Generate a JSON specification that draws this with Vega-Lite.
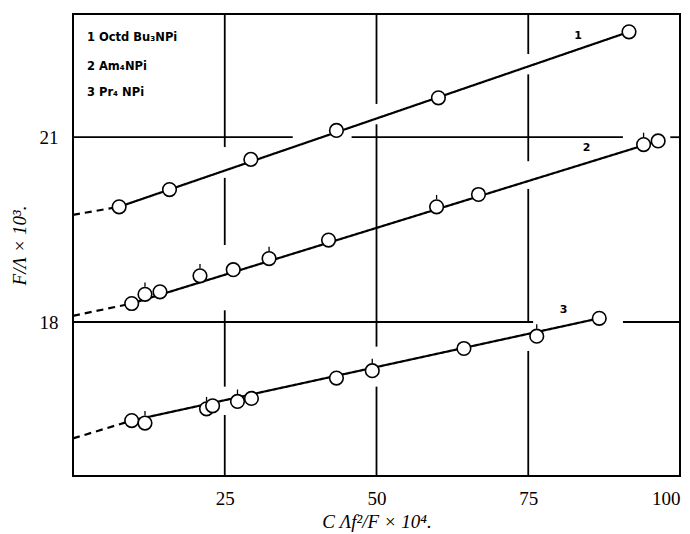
{
  "$schema": "https://vega.github.io/schema/vega-lite/v6.json",
  "autosize": "none",
  "width": 607,
  "height": 462,
  "padding": {"left": 73, "top": 14, "right": 10, "bottom": 58},
  "background": "white",
  "config": {
    "view": {"stroke": "black", "strokeWidth": 2},
    "axis": {
      "domain": false, "ticks": false, "grid": false,
      "labelFont": "Liberation Serif", "labelFontSize": 19, "labelColor": "black",
      "titleFont": "Liberation Serif", "titleFontSize": 19, "titleFontWeight": "normal", "titleColor": "black", "titleFontStyle": "italic"
    }
  },
  "datasets": {
    "pts": [
      {"s": "1", "x": 7.6, "y": 19.87, "t": false},
      {"s": "1", "x": 15.9, "y": 20.15, "t": false},
      {"s": "1", "x": 29.3, "y": 20.64, "t": false},
      {"s": "1", "x": 43.4, "y": 21.11, "t": false},
      {"s": "1", "x": 60.2, "y": 21.64, "t": false},
      {"s": "1", "x": 91.6, "y": 22.71, "t": false},
      {"s": "2", "x": 9.67, "y": 18.30, "t": false},
      {"s": "2", "x": 11.86, "y": 18.45, "t": true},
      {"s": "2", "x": 14.33, "y": 18.49, "t": false},
      {"s": "2", "x": 20.92, "y": 18.75, "t": true},
      {"s": "2", "x": 26.4, "y": 18.85, "t": false},
      {"s": "2", "x": 32.3, "y": 19.03, "t": true},
      {"s": "2", "x": 42.1, "y": 19.33, "t": false},
      {"s": "2", "x": 59.9, "y": 19.87, "t": true},
      {"s": "2", "x": 66.8, "y": 20.07, "t": false},
      {"s": "2", "x": 94.0, "y": 20.88, "t": true},
      {"s": "2", "x": 96.4, "y": 20.94, "t": false},
      {"s": "3", "x": 9.67, "y": 16.40, "t": false},
      {"s": "3", "x": 11.86, "y": 16.36, "t": true},
      {"s": "3", "x": 22.0, "y": 16.59, "t": true},
      {"s": "3", "x": 23.0, "y": 16.64, "t": false},
      {"s": "3", "x": 27.1, "y": 16.71, "t": true},
      {"s": "3", "x": 29.4, "y": 16.76, "t": false},
      {"s": "3", "x": 43.4, "y": 17.09, "t": false},
      {"s": "3", "x": 49.3, "y": 17.21, "t": true},
      {"s": "3", "x": 64.4, "y": 17.57, "t": false},
      {"s": "3", "x": 76.4, "y": 17.77, "t": true},
      {"s": "3", "x": 86.7, "y": 18.06, "t": false}
    ],
    "fits": [
      {"seg": "1d", "style": "dash", "x": 0, "y": 19.74},
      {"seg": "1d", "style": "dash", "x": 7.6, "y": 19.87},
      {"seg": "1s", "style": "solid", "x": 7.6, "y": 19.87},
      {"seg": "1s", "style": "solid", "x": 91.6, "y": 22.71},
      {"seg": "2d", "style": "dash", "x": 0, "y": 18.10},
      {"seg": "2d", "style": "dash", "x": 9.67, "y": 18.30},
      {"seg": "2s", "style": "solid", "x": 9.67, "y": 18.30},
      {"seg": "2s", "style": "solid", "x": 96.4, "y": 20.94},
      {"seg": "3d", "style": "dash", "x": 0, "y": 16.11},
      {"seg": "3d", "style": "dash", "x": 9.67, "y": 16.40},
      {"seg": "3s", "style": "solid", "x": 9.67, "y": 16.40},
      {"seg": "3s", "style": "solid", "x": 86.7, "y": 18.06}
    ],
    "grid": [
      {"x": 25, "x2": 25, "y": 23, "y2": 20.84},
      {"x": 25, "x2": 25, "y": 20.34, "y2": 19.25},
      {"x": 25, "x2": 25, "y": 18.19, "y2": 16.95},
      {"x": 25, "x2": 25, "y": 16.49, "y2": 15.5},
      {"x": 50, "x2": 50, "y": 23, "y2": 21.54},
      {"x": 50, "x2": 50, "y": 21.21, "y2": 17.6},
      {"x": 50, "x2": 50, "y": 16.95, "y2": 15.5},
      {"x": 75, "x2": 75, "y": 23, "y2": 22.35},
      {"x": 75, "x2": 75, "y": 22.02, "y2": 20.61},
      {"x": 75, "x2": 75, "y": 20.16, "y2": 18.0},
      {"x": 75, "x2": 75, "y": 17.53, "y2": 15.5},
      {"x": 0, "x2": 36.2, "y": 21, "y2": 21},
      {"x": 45.9, "x2": 90.6, "y": 21, "y2": 21},
      {"x": 98.4, "x2": 100, "y": 21, "y2": 21},
      {"x": 0, "x2": 75.8, "y": 18, "y2": 18},
      {"x": 90.6, "x2": 100, "y": 18, "y2": 18}
    ],
    "legend": [
      {"x": 2.3, "y": 22.61, "text": "1  Octd Bu₃NPi"},
      {"x": 2.3, "y": 22.14, "text": "2  Am₄NPi"},
      {"x": 2.3, "y": 21.71, "text": "3  Pr₄ NPi"}
    ],
    "nums": [
      {"x": 83.2, "y": 22.65, "text": "1"},
      {"x": 84.6, "y": 20.82, "text": "2"},
      {"x": 80.8, "y": 18.19, "text": "3"}
    ]
  },
  "encoding": {
    "x": {"field": "x", "type": "quantitative", "scale": {"domain": [0, 100], "nice": false},
          "axis": {"values": [25, 50, 75, 100], "labelPadding": 13, "titlePadding": 4, "title": "C Λf²/F × 10⁴."}},
    "y": {"field": "y", "type": "quantitative", "scale": {"domain": [15.5, 23], "nice": false, "zero": false},
          "axis": {"values": [18, 21], "labelPadding": 15, "titlePadding": 10, "title": "F/Λ × 10³."}}
  },
  "layer": [
    {
      "data": {"name": "grid"},
      "mark": {"type": "rule", "color": "black", "strokeWidth": 1.8},
      "encoding": {"x2": {"field": "x2"}, "y2": {"field": "y2"}}
    },
    {
      "data": {"name": "fits"},
      "mark": {"type": "line", "color": "black", "strokeWidth": 2.2},
      "encoding": {
        "detail": {"field": "seg"},
        "strokeDash": {"field": "style", "type": "nominal", "scale": {"domain": ["solid", "dash"], "range": [[1, 0], [7, 5]]}, "legend": null}
      }
    },
    {
      "data": {"name": "pts"},
      "mark": {"type": "point", "shape": "circle", "filled": false, "fill": "white", "fillOpacity": 1, "stroke": "black", "strokeWidth": 1.6, "size": 185, "opacity": 1},
      "encoding": {}
    },
    {
      "data": {"name": "pts"},
      "transform": [{"filter": "datum.t"}],
      "mark": {"type": "point", "shape": "M0,-1.1L0,-1.75", "filled": false, "stroke": "black", "strokeWidth": 1.3, "size": 185, "opacity": 1},
      "encoding": {}
    },
    {
      "data": {"name": "legend"},
      "mark": {"type": "text", "align": "left", "baseline": "middle", "font": "DejaVu Sans", "fontWeight": "bold", "fontSize": 11.5, "color": "black"},
      "encoding": {"text": {"field": "text"}}
    },
    {
      "data": {"name": "nums"},
      "mark": {"type": "text", "align": "center", "baseline": "middle", "font": "DejaVu Sans", "fontWeight": "bold", "fontSize": 11, "color": "black"},
      "encoding": {"text": {"field": "text"}}
    }
  ]
}
